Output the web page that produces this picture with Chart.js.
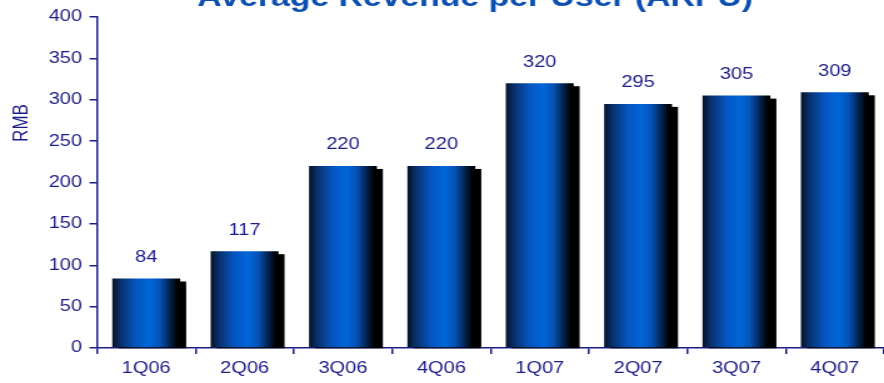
<!doctype html>
<html lang="en">
<head>
<meta charset="utf-8">
<title>ARPU</title>
<style>
    body { margin: 0; background: white; overflow: hidden; }
    /* the original picture is stretched sideways, so the chart is drawn narrow and widened */
    .chartCard {
        width: 707px;
        height: 383px;
        position: relative;
        transform: scaleX(1.2504);
        transform-origin: 0 0;
    }
</style>
</head>
<body>
<div class="chartCard">
    <canvas id="myChart"></canvas>
</div>
<script src="https://cdn.jsdelivr.net/npm/chart.js"></script>
<script>
    const labels = ['1Q06', '2Q06', '3Q06', '4Q06', '1Q07', '2Q07', '3Q07', '4Q07'];
    const arpu = [84, 117, 220, 220, 320, 295, 305, 309];
    const yTicks = [0, 50, 100, 150, 200, 250, 300, 350, 400];

    const navy = '#1c1c86';
    const fontFamily = '"Liberation Sans", Arial, sans-serif';
    const barFrac = 0.69;

    // horizontal gradient for one bar, worked out from the x scale
    function barGradient(context) {
        const chart = context.chart;
        const xs = chart.scales.x;
        if (!xs || context.dataIndex === undefined) return '#0a5acb';
        const cx = xs.getPixelForValue(context.dataIndex);
        const w = (xs.width / labels.length) * barFrac;
        const left = cx - w / 2;
        if (!isFinite(left) || !isFinite(w) || w <= 0) return '#0a5acb';
        const g = chart.ctx.createLinearGradient(left, 0, left + w, 0);
        g.addColorStop(0, '#041226');
        g.addColorStop(0.12, '#09306a');
        g.addColorStop(0.35, '#0556c2');
        g.addColorStop(0.55, '#0066d8');
        g.addColorStop(0.7, '#0552b6');
        g.addColorStop(0.85, '#03224c');
        g.addColorStop(0.96, '#000000');
        g.addColorStop(1, '#000000');
        return g;
    }

    const plugin = {
        id: 'barstyle',
        beforeDatasetsDraw(chart) {
            const ctx = chart.ctx;
            const meta = chart.getDatasetMeta(0);
            ctx.save();
            ctx.fillStyle = '#000';
            meta.data.forEach(bar => {
                const w = bar.width;
                const left = bar.x - w / 2;
                ctx.fillRect(left + 4.8, bar.y + 3, w, bar.base - bar.y - 2);
            });
            ctx.restore();
        },
        afterDatasetsDraw(chart) {
            const ctx = chart.ctx;
            const meta = chart.getDatasetMeta(0);
            ctx.save();
            ctx.fillStyle = navy;
            ctx.font = '16px ' + fontFamily;
            ctx.textAlign = 'center';
            ctx.textBaseline = 'middle';
            meta.data.forEach((bar, i) => {
                ctx.fillText(arpu[i], bar.x, bar.y - 21);
            });
            ctx.restore();
        },
        afterDraw(chart) {
            const ctx = chart.ctx;
            ctx.save();
            ctx.fillStyle = '#0d4fb0';
            ctx.font = 'bold 27px ' + fontFamily;
            ctx.textAlign = 'center';
            ctx.textBaseline = 'alphabetic';
            ctx.fillText('Average Revenue per User (ARPU)', 380, 6);
            ctx.translate(17.6, 123);
            ctx.rotate(-Math.PI / 2);
            ctx.fillStyle = navy;
            ctx.font = '17px ' + fontFamily;
            ctx.textBaseline = 'middle';
            ctx.fillText('RMB', 0, 0);
            ctx.restore();
        }
    };

    const config = {
        type: 'bar',
        data: {
            labels: labels,
            datasets: [{
                data: arpu,
                backgroundColor: barGradient,
                categoryPercentage: barFrac,
                barPercentage: 1
            }]
        },
        options: {
            responsive: true,
            maintainAspectRatio: false,
            animation: false,
            layout: { padding: { top: 17, right: 0, left: 0, bottom: 0 } },
            plugins: {
                legend: { display: false },
                tooltip: { enabled: false }
            },
            scales: {
                x: {
                    grid: {
                        drawOnChartArea: false,
                        tickLength: 6,
                        color: navy,
                        lineWidth: 1.5
                    },
                    border: { color: navy, width: 1.5 },
                    ticks: {
                        color: navy,
                        padding: 5,
                        font: { family: fontFamily, size: 16 }
                    },
                    afterFit(scale) { scale.height = 35; }
                },
                y: {
                    min: 0,
                    max: 400,
                    afterBuildTicks(scale) { scale.ticks = yTicks.map(v => ({ value: v })); },
                    grid: {
                        drawOnChartArea: false,
                        tickLength: 6,
                        color: navy,
                        lineWidth: 1.5
                    },
                    border: { color: navy, width: 1.5 },
                    ticks: {
                        color: navy,
                        padding: 6,
                        font: { family: fontFamily, size: 16 }
                    },
                    afterFit(scale) { scale.width = 77.6; }
                }
            }
        },
        plugins: [plugin]
    };

    const myChart = new Chart(document.getElementById('myChart'), config);
    myChart.update();
</script>
</body>
</html>
